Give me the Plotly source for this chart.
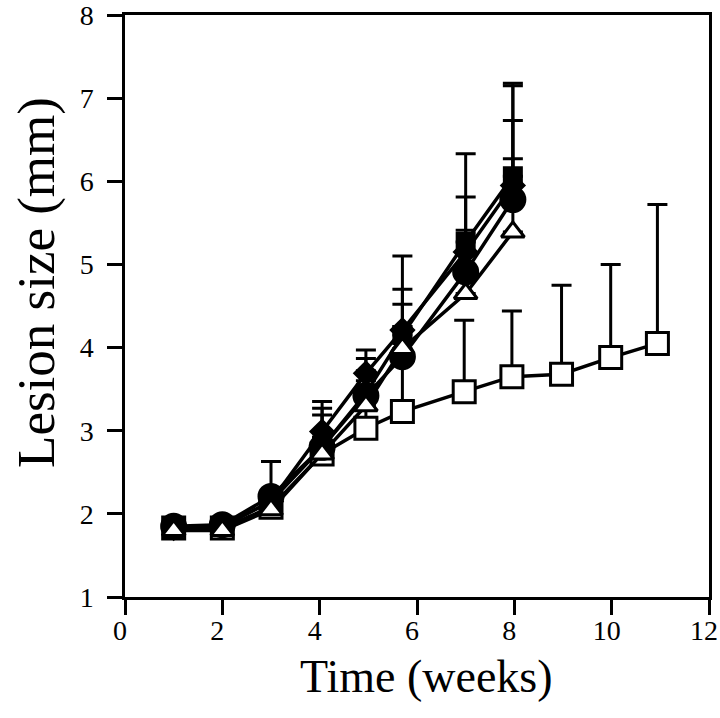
import plotly.graph_objects as go

# ---- data ----
weeks_main = [1, 2, 3, 4.05, 4.95, 5.7, 7.0, 7.97]
weeks_ctrl = [1, 2, 3, 4.05, 4.95, 5.7, 6.97, 7.95, 8.97, 9.98, 10.94]

filled_square = [1.83, 1.85, 2.15, 2.80, 3.45, 4.15, 5.27, 6.06]
filled_square_err = [0.05, 0.05, 0.10, 0.47, 0.42, 0.95, 1.06, 1.12]

filled_circle = [1.85, 1.87, 2.21, 2.80, 3.42, 3.89, 4.91, 5.78]
filled_circle_err = [0.05, 0.05, 0.42, 0.39, 0.30, 0.36, 0.50, 0.95]

filled_diamond = [1.83, 1.85, 2.15, 2.99, 3.69, 4.21, 5.15, 5.95]
filled_diamond_err = [0.05, 0.05, 0.10, 0.36, 0.28, 0.49, 0.66, 1.20]

open_triangle = [1.80, 1.80, 2.05, 2.72, 3.30, 3.99, 4.65, 5.39]
open_triangle_err = [0.05, 0.05, 0.10, 0.20, 0.30, 0.53, 0.50, 0.88]

open_square = [1.83, 1.83, 2.08, 2.72, 3.03, 3.23, 3.47, 3.65, 3.68, 3.88, 4.05]
open_square_err = [0.05, 0.05, 0.10, 0.20, 0.30, 0.60, 0.86, 0.79, 1.07, 1.12, 1.67]

x_ticks = [0, 2, 4, 6, 8, 10, 12]
y_ticks = [1, 2, 3, 4, 5, 6, 7, 8]

x_title = "Time (weeks)"
y_title = "Lesion size (mm)"

FONT = "Liberation Serif, Times New Roman, serif"


def series(x, y, err, symbol, size, fill):
    return go.Scatter(
        x=x, y=y, mode="lines+markers",
        line=dict(color="black", width=3.5),
        marker=dict(symbol=symbol, size=size, color=fill,
                    line=dict(color="black", width=3)),
        error_y=dict(type="data", symmetric=False, array=err,
                     arrayminus=[0] * len(err), color="black",
                     thickness=3, width=10),
        showlegend=False,
    )


fig = go.Figure()
fig.add_trace(series(weeks_ctrl, open_square, open_square_err, "square", 22, "white"))
fig.add_trace(series(weeks_main, filled_square, filled_square_err, "square", 17, "black"))
fig.add_trace(series(weeks_main, filled_diamond, filled_diamond_err, "diamond", 17, "black"))
fig.add_trace(series(weeks_main, filled_circle, filled_circle_err, "circle", 24, "black"))
fig.add_trace(series(weeks_main, open_triangle, open_triangle_err, "triangle-up", 20, "white"))

axis_common = dict(
    showgrid=False, zeroline=False, showline=True, linecolor="black",
    linewidth=2.5, mirror=True, ticks="outside", ticklen=15,
    tickwidth=2.5, tickcolor="black", automargin=False,
    ticklabeloverflow="allow",
    tickfont=dict(family=FONT, size=28, color="black"),
)

fig.update_xaxes(
    range=[0, 12], tickvals=x_ticks, ticktext=[str(v) for v in x_ticks],
    ticklabelstandoff=-8, ticklabelshift=-5,
    **axis_common,
)
fig.update_yaxes(
    range=[1, 8], tickvals=y_ticks, ticktext=[str(v) for v in y_ticks],
    ticklabelstandoff=8,
    **axis_common,
)

# axis titles placed as annotations to match their offset positions
fig.add_annotation(
    text=x_title, xref="paper", yref="paper", x=0.517, y=-0.137,
    xanchor="center", yanchor="middle", showarrow=False,
    font=dict(family=FONT, size=46, color="black"),
)
fig.add_annotation(
    text=y_title, xref="paper", yref="paper", x=-0.152, y=0.54,
    xanchor="center", yanchor="middle", showarrow=False, textangle=-90,
    font=dict(family=FONT, size=53, color="black"),
)

fig.update_layout(
    width=720, height=718,
    margin=dict(l=125, r=11, t=15, b=121),
    paper_bgcolor="white", plot_bgcolor="white",
)

# remove the default page margin so the 720x718 figure fills the window exactly
fig.write_html("out.html", config={"displayModeBar": False},
               post_script="document.body.style.margin='0px';")
